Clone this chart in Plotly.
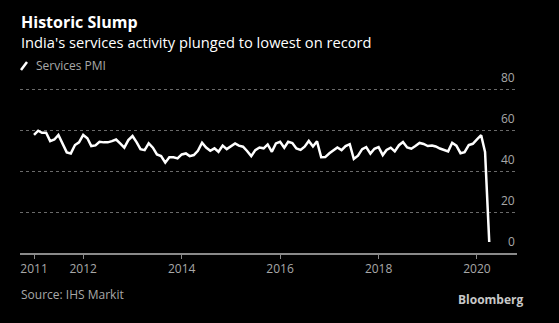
import pandas as pd
import plotly.graph_objects as go

# ---- data ----
pmi_2011 = [57.6, 59.7, 58.7, 58.7, 54.6, 55.4, 57.6, 53.5, 49.1, 48.6, 52.7, 54.0]
pmi_2012 = [57.6, 56.0, 52.2, 52.5, 54.3, 54.0, 54.0, 54.6, 55.4, 53.5, 51.4, 55.1]
pmi_2013 = [57.1, 54.0, 50.7, 50.2, 53.5, 51.4, 48.1, 47.3, 44.1, 46.7, 46.7, 46.2]
pmi_2014 = [48.1, 48.6, 47.3, 47.8, 49.9, 53.8, 51.5, 49.9, 51.1, 49.4, 52.4, 50.7]
pmi_2015 = [51.9, 53.5, 52.4, 51.9, 49.8, 47.3, 50.2, 51.5, 51.1, 53.0, 49.4, 53.5]
pmi_2016 = [54.3, 51.4, 54.3, 53.7, 51.0, 50.3, 51.9, 54.7, 52.0, 54.5, 46.7, 46.8]
pmi_2017 = [48.7, 50.3, 51.5, 50.2, 52.2, 53.1, 45.9, 47.5, 50.7, 51.7, 48.5, 50.9]
pmi_2018 = [51.7, 47.8, 50.3, 51.4, 49.6, 52.6, 54.2, 51.5, 50.9, 52.2, 53.7, 53.2]
pmi_2019 = [52.2, 52.5, 52.0, 51.0, 50.2, 49.6, 53.8, 52.4, 48.7, 49.2, 52.7, 53.3]
pmi_2020 = [55.5, 57.5, 49.3, 5.4]

values = (pmi_2011 + pmi_2012 + pmi_2013 + pmi_2014 + pmi_2015 + pmi_2016
          + pmi_2017 + pmi_2018 + pmi_2019 + pmi_2020)
dates = pd.date_range("2011-01-01", periods=len(values), freq="MS")

x_tick_vals = ["2011-01-01", "2012-01-01", "2014-01-01", "2016-01-01", "2018-01-01", "2020-01-01"]
x_tick_text = ["2011", "2012", "2014", "2016", "2018", "2020"]
y_tick_vals = [0, 20, 40, 60, 80]

title = "Historic Slump"
subtitle = "India's services activity plunged to lowest on record"
legend_label = "Services PMI"
source = "Source: IHS Markit"
brand = "Bloomberg"

# ---- layout geometry (pixels) ----
W, H = 559, 323
L, R, T, B = 20, 42, 85, 70
PW, PH = W - L - R, H - T - B
FONT = "Open Sans"
GREY = "#a8a8a8"


def px(xp):
    return (xp - L) / PW


def py(yp):
    return (H - B - yp) / PH


fig = go.Figure()
fig.add_trace(go.Scatter(x=dates, y=values, mode="lines",
                         line=dict(color="white", width=2.5),
                         name=legend_label, showlegend=False))

fig.update_layout(
    width=W, height=H,
    margin=dict(l=L, r=R, t=T, b=B),
    paper_bgcolor="black", plot_bgcolor="black",
    font=dict(family=FONT, color=GREY, size=12),
    xaxis=dict(
        range=["2010-09-19", "2020-10-24"],
        tickvals=x_tick_vals, ticktext=x_tick_text,
        showgrid=False, zeroline=False,
        showline=True, linecolor="#8a8a8a", linewidth=1.5,
        ticks="outside", ticklen=4, tickcolor="#8a8a8a", tickwidth=1,
        tickfont=dict(size=12, color=GREY, family=FONT),
    ),
    yaxis=dict(
        range=[0, 82], tickvals=y_tick_vals, side="right",
        showticklabels=False,
        showgrid=True, gridcolor="#6a6a6a", griddash="dot", gridwidth=1,
        zeroline=False, showline=False, ticks="",
    ),
)

# y-axis labels sitting above the gridlines at the right edge
for v in y_tick_vals:
    fig.add_annotation(xref="paper", yref="y", x=1, y=v, xanchor="right", yanchor="bottom",
                       yshift=1, showarrow=False, text=str(v),
                       font=dict(size=12, color=GREY, family=FONT))

ann = [
    dict(text="<b>" + title + "</b>", x=px(19), y=py(21.5), font=dict(size=16, color="white")),
    dict(text=subtitle, x=px(19), y=py(42), font=dict(size=14.7, color="white")),
    dict(text=legend_label, x=px(34), y=py(65), font=dict(size=12, color=GREY)),
    dict(text=source, x=px(19), y=py(294), font=dict(size=12, color=GREY)),
]
for a in ann:
    fig.add_annotation(xref="paper", yref="paper", xanchor="left", yanchor="middle",
                       showarrow=False, **a)
fig.add_annotation(xref="paper", yref="paper", xanchor="right", yanchor="middle",
                   x=px(526), y=py(299), showarrow=False,
                   text="<b>" + brand + "</b>", font=dict(size=12, color="#c8c8c8"))

# legend icon (slanted stroke)
fig.add_shape(type="line", xref="paper", yref="paper",
              x0=px(21), y0=py(70), x1=px(27), y1=py(62),
              line=dict(color="white", width=2.5))

fig.write_html("out.html")
